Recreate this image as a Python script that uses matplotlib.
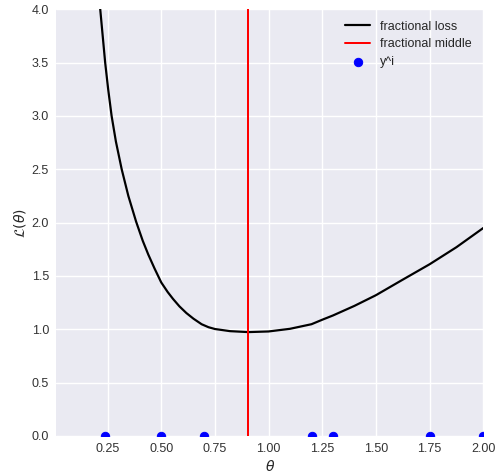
import numpy as np
import matplotlib
matplotlib.use("Agg")
import matplotlib.pyplot as plt

# observed values y^i
y_obs = [0.24, 0.50, 0.70, 1.20, 1.30, 1.75, 2.00]

# fractional loss curve
theta = [0.20, 0.216, 0.239, 0.253, 0.269, 0.289, 0.316, 0.347, 0.383, 0.414,
         0.44, 0.469, 0.50, 0.53, 0.555, 0.585, 0.617, 0.65, 0.688, 0.72,
         0.75, 0.82, 0.906, 1.00, 1.10, 1.20, 1.25, 1.30, 1.40, 1.50,
         1.62, 1.75, 1.875, 2.00]
loss = [4.45, 4.00, 3.50, 3.25, 3.00, 2.76, 2.50, 2.25, 2.01, 1.83,
        1.70, 1.57, 1.44, 1.35, 1.285, 1.215, 1.153, 1.10, 1.048, 1.02,
        1.003, 0.983, 0.974, 0.98, 1.005, 1.048, 1.09, 1.13, 1.22, 1.32,
        1.46, 1.61, 1.77, 1.95]

# minimiser of the fractional loss
frac_middle = 0.906

plt.style.use("seaborn-v0_8-darkgrid")
plt.rcParams["font.family"] = ["Liberation Sans", "DejaVu Sans"]
plt.rcParams["grid.linewidth"] = 1.4

fig = plt.figure(figsize=(497 / 72, 475 / 72), dpi=72)
ax = fig.add_axes([56 / 497, 39 / 475, 427.3 / 497, 426.7 / 475])

ax.plot(theta, loss, color="black", linewidth=2.2, label="fractional loss")
ax.axvline(frac_middle, color="red", linewidth=2, label="fractional middle")
ax.scatter(y_obs, np.zeros(len(y_obs)), color="blue", s=70, label="y^i", zorder=3)

ax.set_xlim(0.01, 2.0)
ax.set_ylim(0, 4)
ax.set_xticks([0.25, 0.5, 0.75, 1.0, 1.25, 1.5, 1.75, 2.0])
ax.set_yticks(np.arange(0, 4.01, 0.5))
ax.tick_params(labelsize=12.5, colors="#333333", pad=7)
ax.set_xlabel(r"$\theta$", fontsize=14, labelpad=4)
ax.set_ylabel(r"$\mathcal{L}(\theta)$", fontsize=14)
ax.legend(loc="upper right", fontsize=12.5, frameon=False, labelspacing=0.45)

fig.savefig("out.png", dpi=72)
